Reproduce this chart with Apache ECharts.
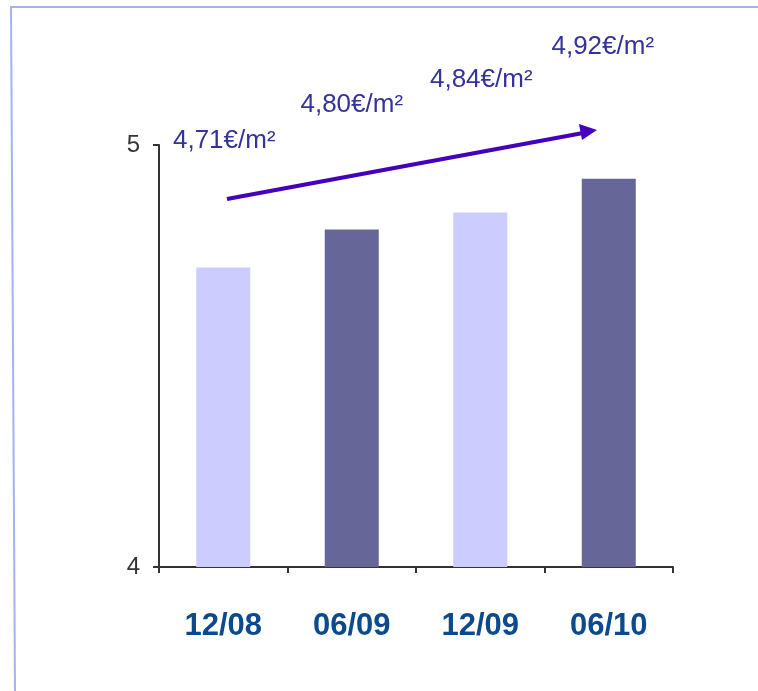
<!DOCTYPE html>
<html>
<head>
<meta charset="utf-8">
<script src="https://cdn.jsdelivr.net/npm/echarts@6/dist/echarts.min.js"></script>
<style>
  html, body { margin: 0; padding: 0; background: #ffffff; }
  #chart { width: 758px; height: 691px; }
</style>
</head>
<body>
<div id="chart"></div>
<script>
// Average rent per square metre by half-year
const periods = ['12/08', '06/09', '12/09', '06/10'];
const rentPerSqm = [4.71, 4.80, 4.84, 4.92];
const barColors = ['#ccccff', '#666699', '#ccccff', '#666699'];
// value label offsets above each bar (staggered)
const labelOffsets = [[1, -114], [0, -112], [1, -120], [-6, -119]];

const chart = echarts.init(document.getElementById('chart'));

const fmt = v => v.toFixed(2).replace('.', ',') + '€/m²';

chart.setOption({
  animation: false,
  grid: { left: 159, right: 85, top: 145, bottom: 124 },
  xAxis: {
    type: 'category',
    data: periods,
    axisLine: { lineStyle: { color: '#333333', width: 2 } },
    axisTick: { show: true, length: 6, lineStyle: { color: '#333333', width: 2 } },
    axisLabel: {
      margin: 44,
      color: '#0b4a8c',
      fontFamily: 'Liberation Sans, Arial, sans-serif',
      fontWeight: 'bold',
      fontSize: 31
    }
  },
  yAxis: {
    type: 'value',
    min: 4,
    max: 5,
    interval: 1,
    splitLine: { show: false },
    axisLine: { show: true, lineStyle: { color: '#333333', width: 2 } },
    axisTick: { show: true, length: 6, lineStyle: { color: '#333333', width: 2 } },
    axisLabel: {
      margin: 19,
      color: '#333333',
      fontFamily: 'Liberation Sans, Arial, sans-serif',
      fontSize: 24
    }
  },
  series: [{
    type: 'bar',
    barWidth: 54,
    data: rentPerSqm.map((v, i) => ({
      value: v,
      itemStyle: { color: barColors[i] },
      label: { offset: labelOffsets[i] }
    })),
    label: {
      show: true,
      position: 'top',
      distance: 0,
      formatter: p => fmt(p.value),
      color: '#33339a',
      fontFamily: 'Liberation Sans, Arial, sans-serif',
      fontSize: 26
    }
  }],
  graphic: [
    // frame lines
    { type: 'line', shape: { x1: 10, y1: 7, x2: 758, y2: 7 }, style: { stroke: '#a3b3f2', lineWidth: 2 } },
    { type: 'line', shape: { x1: 11, y1: 7, x2: 15, y2: 691 }, style: { stroke: '#a3b3f2', lineWidth: 2 } },
    // trend arrow
    { type: 'line', shape: { x1: 227, y1: 199, x2: 583, y2: 133 }, style: { stroke: '#4400bb', lineWidth: 4 } },
    { type: 'polygon', shape: { points: [[597, 130], [579, 124], [582, 140]] }, style: { fill: '#4400bb' } }
  ]
});
</script>
</body>
</html>
